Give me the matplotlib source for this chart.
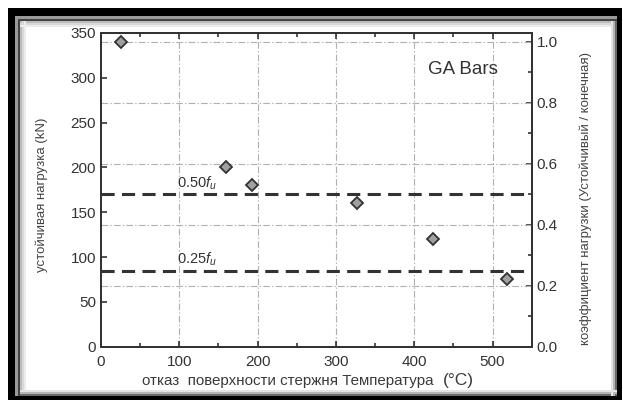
import matplotlib
matplotlib.use("Agg")
import matplotlib.pyplot as plt
from matplotlib.patches import Rectangle
from matplotlib.ticker import MultipleLocator

plt.rcParams['font.family'] = ['Liberation Sans', 'DejaVu Sans']
plt.rcParams['mathtext.fontset'] = 'custom'
plt.rcParams['mathtext.it'] = 'Liberation Sans:italic'
plt.rcParams['mathtext.rm'] = 'Liberation Sans'

# Measured stable loads of GA bars vs. failure surface temperature
temperature = [25, 159, 193, 327, 424, 518]
stable_load = [340, 200, 180, 160, 120, 75]
ultimate_load = 340  # kN, reference for the load ratio
ratio_levels = [0.50, 0.25]
ratio_labels = [r'0.50$f_u$', r'0.25$f_u$']

W, H = 623, 401
fig = plt.figure(figsize=(W / 100, H / 100), dpi=100)
fig.patch.set_facecolor('white')


def px_rect(x0, y0, x1, y1, **kw):
    """Rectangle in pixel coordinates (origin top-left)."""
    fig.patches.append(Rectangle((x0 / W, 1 - y1 / H), (x1 - x0) / W, (y1 - y0) / H,
                                 transform=fig.transFigure, figure=fig, **kw))


# picture frame: thick black band, grey hatched band, thin inner line with soft shadow
px_rect(8, 8, 622, 16, color='black', lw=0)
px_rect(8, 8, 15, 400, color='black', lw=0)
px_rect(617, 8, 622, 400, color='black', lw=0)
px_rect(8, 396, 622, 400, color='black', lw=0)
px_rect(15, 16, 617, 19, color='#9a9a9a', lw=0)
px_rect(15, 16, 18, 396, color='#9a9a9a', lw=0)
px_rect(18, 19, 617, 21, color='#444444', lw=0)
px_rect(18, 19, 20, 396, color='#444444', lw=0)
for i, c in enumerate(['#bbbbbb', '#d8d8d8', '#ececec']):
    px_rect(20, 21 + i * 2, 617, 23 + i * 2, color=c, lw=0)
    px_rect(20 + i * 2, 21, 22 + i * 2, 396, color=c, lw=0)
for i, c in enumerate(['#6a6a6a', '#b5b5b5', '#e3e3e3']):
    px_rect(615 - i * 2, 21, 617 - i * 2, 396, color=c, lw=0)
    px_rect(20, 394 - i * 2, 617, 396 - i * 2, color=c, lw=0)

ax = fig.add_axes([101 / W, 1 - 346.7 / H, (531.7 - 101) / W, (346.7 - 33) / H])
ax.set_facecolor('none')
ax2 = ax.twinx()
ax.set_zorder(ax2.get_zorder() + 1)

ax.set_xlim(0, 550)
ax.set_ylim(0, 350)
ax2.set_ylim(0, 350 / ultimate_load)

dark = '#333333'
grid_kw = dict(color='#b0b0b0', lw=0.8, dashes=(6, 2, 1.2, 2))

# grid: vertical at 100 °C steps, horizontal at load-ratio ticks
for xv in range(100, 501, 100):
    ax.axvline(xv, zorder=0, **grid_kw)
for r in [0.2, 0.4, 0.6, 0.8, 1.0]:
    ax.axhline(r * ultimate_load, zorder=0, **grid_kw)

# reference ratio lines
for lvl, lab in zip(ratio_levels, ratio_labels):
    y = lvl * ultimate_load
    ax.axhline(y, color=dark, lw=2.2, dashes=(4.3, 2.4), zorder=2)
    ax.text(97, y + 8, lab, fontsize=10.5, color=dark, ha='left', va='baseline')

ax.plot(temperature, stable_load, linestyle='none', marker='D', markersize=6.5,
        markerfacecolor='#a0a0a0', markeredgecolor=dark, markeredgewidth=1.3, zorder=3)

ax.text(462, 309, 'GA Bars', fontsize=13.5, color=dark, ha='center', va='center')

# axes styling
for a in (ax, ax2):
    for s in a.spines.values():
        s.set_color(dark)
        s.set_linewidth(1.4)

ax.xaxis.set_major_locator(MultipleLocator(100))
ax.xaxis.set_minor_locator(MultipleLocator(50))
ax.yaxis.set_major_locator(MultipleLocator(50))
ax.tick_params(axis='both', which='both', direction='in', color=dark, labelcolor=dark,
               labelsize=11, top=True, right=False)
ax.tick_params(which='major', length=4, width=1.2)
ax.tick_params(which='minor', length=3, width=1.2)
ax.tick_params(axis='x', pad=6)

ax2.yaxis.set_major_locator(MultipleLocator(0.2))
ax2.yaxis.set_minor_locator(MultipleLocator(0.1))
ax2.yaxis.set_major_formatter(plt.FuncFormatter(lambda v, p: f'{v:.1f}'))
ax2.tick_params(axis='y', which='both', direction='in', color=dark, labelcolor=dark,
                labelsize=11, width=1.2)
ax2.tick_params(which='major', length=4)
ax2.tick_params(which='minor', length=3)

ax.set_ylabel('устойчивая нагрузка (kN)', fontsize=9.5, color='#444444')
ax.yaxis.set_label_coords(-0.123, 0.484)
ax2.set_ylabel('коэффициент нагрузки (Устойчивый / конечная)', fontsize=9.5,
               color='#444444', rotation=90)
ax2.yaxis.set_label_coords(1.112, 0.474)
fig.text(434 / W, 1 - 381 / H, 'отказ  поверхности стержня Температура', fontsize=10.9,
         color='#3a3a3a', ha='right', va='center')
fig.text(443 / W, 1 - 380 / H, '(°C)', fontsize=12.5, color='#3a3a3a', ha='left', va='center')

fig.savefig('out.png', dpi=100)
